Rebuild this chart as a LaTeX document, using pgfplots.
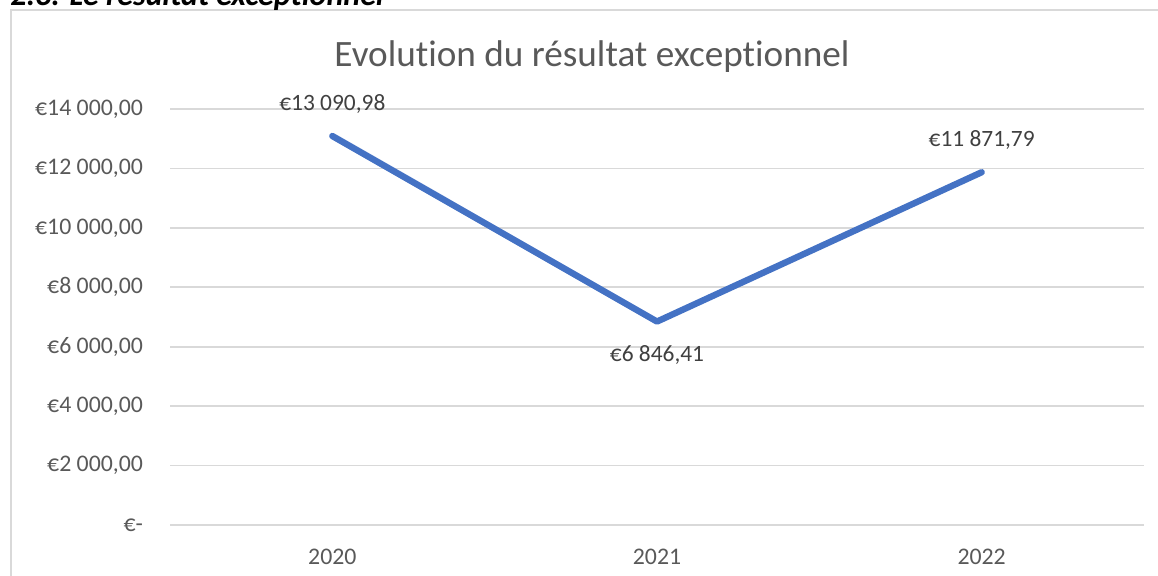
\documentclass[border=0pt]{standalone}
\usepackage{fontspec}
\setmainfont{Carlito}[Ligatures=NoCommon]
\usepackage{pgfplots}
\usepackage{pgfplotstable}
\pgfplotsset{compat=1.18}
\definecolor{gridgray}{HTML}{D9D9D9}
\definecolor{ticktext}{HTML}{595959}
\definecolor{labeltext}{HTML}{404040}
\definecolor{linecol}{HTML}{4472C4}
\pgfplotstableread{
x y dy
0 13090.98 16
1 6846.41 -16.5
2 11871.79 16
}\resdata
\begin{document}
\begin{tikzpicture}
\clip (0,0) rectangle (579bp,288bp);
\path[use as bounding box] (0,0) rectangle (579bp,288bp);
\draw[gridgray, line width=0.9bp] (5.5bp,-10bp) -- (5.5bp,283bp) -- (600bp,283bp);
\node[anchor=base west, inner sep=0, font=\bfseries\itshape\fontsize{16bp}{18bp}\selectfont] at (5bp,285.4bp) {2.3. Le résultat exceptionnel};
\node[anchor=base, inner sep=0, text=ticktext, font=\fontsize{18.6bp}{22bp}\selectfont] at (296bp,254.6bp) {Evolution du résultat exceptionnel};
\begin{axis}[
  at={(85bp,25.5bp)}, anchor=south west,
  scale only axis, width=487bp, height=208bp,
  xmin=-0.5, xmax=2.5, ymin=0, ymax=14000,
  scaled y ticks=false,
  axis line style={draw=none},
  major tick length=0pt,
  xtick={0,1,2}, xticklabels={2020,2021,2022},
  ytick={0,2000,4000,6000,8000,10000,12000,14000},
  yticklabels={{€-\hspace{6bp}},{€2 000,00},{€4 000,00},{€6 000,00},{€8 000,00},{€10 000,00},{€12 000,00},{€14 000,00}},
  ymajorgrids, grid style={gridgray, line width=0.9bp},
  tick label style={text=ticktext, font=\fontsize{11.9bp}{14bp}\selectfont},
  yticklabel style={xshift=-10bp},
  xticklabel style={yshift=-8.6bp},
  /pgf/number format/assume math mode=true,
  clip=false,
]
\addplot[linecol, line width=3.2bp, line cap=round, line join=round,
  point meta=y,
  visualization depends on={\thisrow{dy} \as \dy},
  nodes near coords={€\pgfmathprintnumber[fixed, fixed zerofill, precision=2, use comma, 1000 sep={\ }, assume math mode=true]{\pgfplotspointmeta}},
  every node near coord/.append style={anchor=center, yshift=\dy bp, text=labeltext, font=\fontsize{11.7bp}{14bp}\selectfont},
] table[x=x, y=y] {\resdata};
\end{axis}
\end{tikzpicture}
\end{document}
